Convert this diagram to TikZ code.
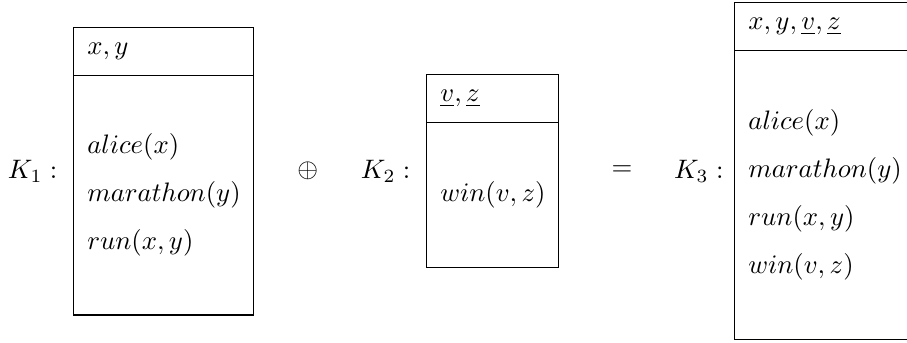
\RequirePackage{fix-cm}
\documentclass[tikz,border=0pt]{standalone}
\usetikzlibrary{positioning}

\tikzset{
    every node/.style={font=\fontsize{10.4}{12.5}\selectfont},
    kbox/.style={draw, inner sep=0pt},
    khead/.style={draw, anchor=north, minimum height=0.66cm, inner sep=0.19cm, align=left},
    kbody/.style={anchor=west, inner sep=0.19cm, align=left},
    klab/.style={inner sep=0.117cm}
}

\begin{document}
\begin{tikzpicture}
    \useasboundingbox (0,0) rectangle (12.41,4.68);

    % First knowledge base
    \node[kbox, minimum width=2.47cm, minimum height=3.94cm] (k1) at (2.24,2.34) {};
    \node[khead, text width=2.09cm] (k1head) at (k1.north) {$x, y$};
    \node[kbody] (k1body) at ([yshift=-0.33cm]k1.west)
        {$alice(x)$\\[6.2pt]$marathon(y)$\\[6.2pt]$run(x,y)$};
    \node[klab, left=0.09cm of k1] (k1lab) {$K_1:$};

    % Operator
    \node (oplus) at (4.21,2.34) {$\oplus$};

    % Second knowledge base
    \node[kbox, minimum width=1.81cm, minimum height=2.64cm] (k2) at (6.74,2.34) {};
    \node[khead, text width=1.43cm] (k2head) at (k2.north) {$\underline{v}, \underline{z}$};
    \node[kbody] (k2body) at ([yshift=-0.33cm]k2.west) {$win(v,z)$};
    \node[klab, left=0.09cm of k2] (k2lab) {$K_2:$};

    % Result
    \node (eq) at (8.51,2.34) {$=$};

    % Third knowledge base
    \node[kbox, minimum width=2.6cm, minimum height=4.61cm] (k3) at (11.35,2.34) {};
    \node[khead, text width=2.22cm] (k3head) at (k3.north) {$x, y, \underline{v}, \underline{z}$};
    \node[kbody] (k3body) at ([yshift=-0.33cm]k3.west)
        {$alice(x)$\\[6.2pt]$marathon(y)$\\[6.2pt]$run(x,y)$\\[6.2pt]$win(v,z)$};
    \node[klab, left=0.02cm of k3] (k3lab) {$K_3:$};
\end{tikzpicture}
\end{document}
